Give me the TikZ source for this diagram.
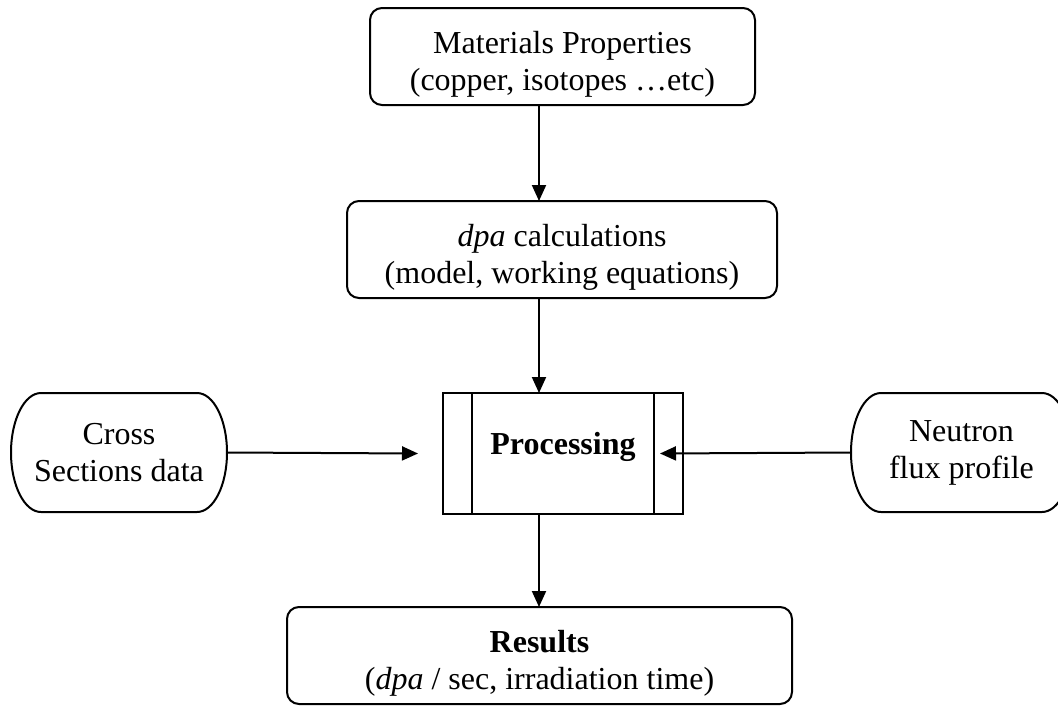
\documentclass[tikz,border=0pt]{standalone}
\usepackage{fontspec}
\setmainfont{Liberation Serif}
\usetikzlibrary{arrows.meta}

\begin{document}
\begin{tikzpicture}[x=1pt,y=1pt,>={Triangle[length=16pt,width=14pt]},
  every node/.style={font=\fontsize{32}{37}\selectfont,align=center,inner sep=0pt,outer sep=0pt},
  flowbox/.style={draw,line width=2pt,rounded corners=12pt,minimum height=97pt,text height=76pt,text depth=8pt},
  terminal/.style={minimum width=216pt,minimum height=119pt},
  procbox/.style={draw,line width=2pt,minimum width=240pt,minimum height=121pt,text height=22pt,text depth=21pt},
  link/.style={->,line width=2pt}]
  \clip (0,0) rectangle (1058,-705);
  \coordinate (axis) at (539,0);
  \node[flowbox,minimum width=385pt] (matprop) at (562.5,-56.5) {Materials Properties\\(copper, isotopes …etc)};
  \node[flowbox,minimum width=430pt] (dpa) at (562,-249.5) {\textit{dpa} calculations\\(model, working equations)};
  \node[procbox] (proc) at (563,-453.5) {\textbf{Processing}};
  \node[flowbox,minimum width=505pt] (results) at (539.5,-655.5) {\textbf{Results}\\(\textit{dpa} / sec, irradiation time)};
  \node[terminal] (cross) at (119,-452.5) {Cross\\Sections data};
  \node[terminal,minimum width=221pt] (neutron) at (961.5,-452.5) {Neutron\\flux profile};
  \foreach \n in {cross,neutron}
    \draw[line width=2pt] ([xshift=30pt]\n.north west) -- ([xshift=-30pt]\n.north east)
      arc[start angle=90,end angle=-90,x radius=30pt,y radius=59.5pt]
      -- ([xshift=30pt]\n.south west)
      arc[start angle=270,end angle=90,x radius=30pt,y radius=59.5pt] -- cycle;
  \draw[line width=2pt] ([xshift=29pt]proc.north west) -- ([xshift=29pt]proc.south west);
  \draw[line width=2pt] ([xshift=-29pt]proc.north east) -- ([xshift=-29pt]proc.south east);
  \draw[link] (axis |- matprop.south) -- (axis |- dpa.north);
  \draw[link] (axis |- dpa.south) -- (axis |- proc.north);
  \draw[link] (axis |- proc.south) -- (axis |- results.north);
  \draw[link] (cross.east) -- ([xshift=-25pt]proc.west);
  \draw[link] (neutron.west) -- ([xshift=-23pt]proc.east);
\end{tikzpicture}
\end{document}
